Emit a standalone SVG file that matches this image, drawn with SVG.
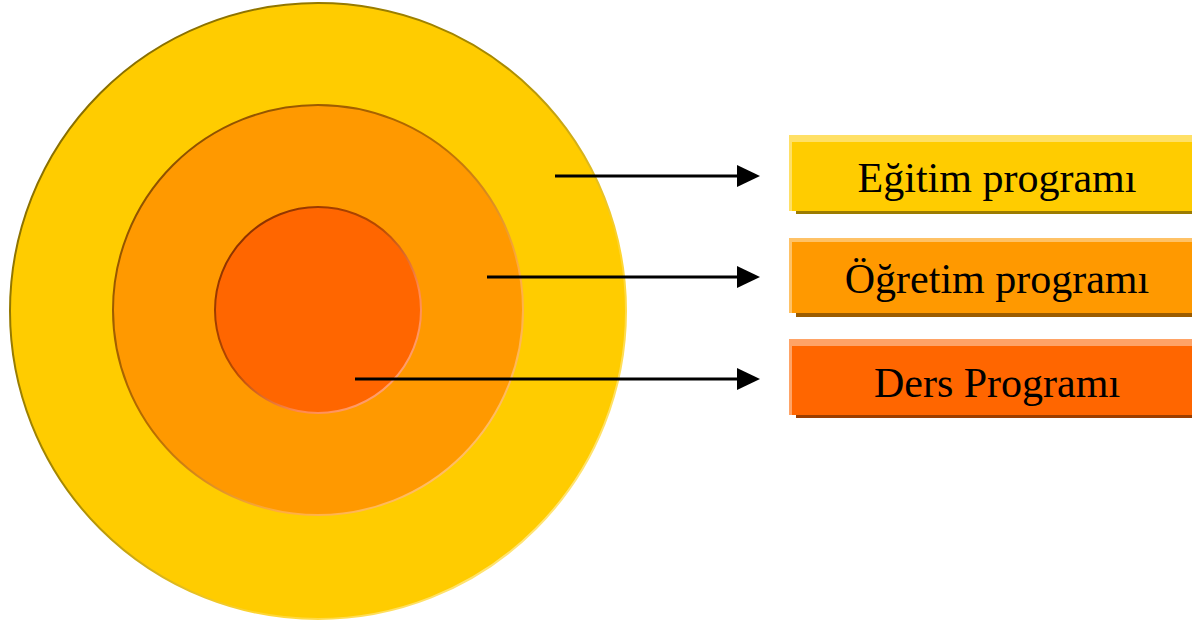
<svg xmlns="http://www.w3.org/2000/svg" width="1192" height="623" viewBox="0 0 1192 623">
  <style>
    .label { font-family: "Liberation Serif", "Times New Roman", serif; font-size: 42px; fill: #000; text-anchor: middle; }
    .conn { stroke: #000; stroke-width: 3; fill: none; marker-end: url(#arrow); }
  </style>
  <defs>
    <marker id="arrow" markerUnits="userSpaceOnUse" markerWidth="24" markerHeight="24" refX="2" refY="12" orient="auto" viewBox="0 0 24 24">
      <path d="M0,1 L23,12 L0,23 Z" fill="#000"/>
    </marker>
    <linearGradient id="edgeOuter" x1="0" y1="0" x2="1" y2="1">
      <stop offset="0" stop-color="#7a6200"/>
      <stop offset="0.45" stop-color="#a88a00"/>
      <stop offset="0.7" stop-color="#ffd633"/>
      <stop offset="1" stop-color="#fff0b0"/>
    </linearGradient>
    <linearGradient id="edgeMid" x1="0" y1="0" x2="1" y2="1">
      <stop offset="0" stop-color="#7a4400"/>
      <stop offset="0.45" stop-color="#b86e00"/>
      <stop offset="0.7" stop-color="#ffad40"/>
      <stop offset="1" stop-color="#ffcc88"/>
    </linearGradient>
    <linearGradient id="edgeInner" x1="0" y1="0" x2="1" y2="1">
      <stop offset="0" stop-color="#7a2800"/>
      <stop offset="0.45" stop-color="#b84a00"/>
      <stop offset="0.7" stop-color="#ff8a50"/>
      <stop offset="1" stop-color="#ffb088"/>
    </linearGradient>
  </defs>

  <g id="circle-egitim">
    <circle cx="318" cy="311" r="308" fill="#ffcc00" stroke="url(#edgeOuter)" stroke-width="2"/>
  </g>
  <g id="circle-ogretim">
    <circle cx="318" cy="310" r="205" fill="#ff9900" stroke="url(#edgeMid)" stroke-width="2"/>
  </g>
  <g id="circle-ders">
    <circle cx="318" cy="310" r="103" fill="#ff6600" stroke="url(#edgeInner)" stroke-width="2"/>
  </g>

  <g id="box-egitim">
    <rect x="796" y="208" width="396" height="6" fill="#9c7c00"/>
    <rect x="789" y="135" width="403" height="76" fill="#ffe066"/>
    <rect x="792" y="142" width="400" height="69" fill="#ffcc00"/>
    <text class="label" x="997" y="192">Eğitim programı</text>
  </g>
  <g id="box-ogretim">
    <rect x="796" y="310" width="396" height="7" fill="#9c5c00"/>
    <rect x="789" y="238" width="403" height="75" fill="#ffc266"/>
    <rect x="792" y="242" width="400" height="71" fill="#ff9900"/>
    <text class="label" x="997" y="293">Öğretim programı</text>
  </g>
  <g id="box-ders">
    <rect x="796" y="412" width="396" height="6" fill="#9c3e00"/>
    <rect x="789" y="339" width="403" height="76" fill="#ffa366"/>
    <rect x="792" y="346" width="400" height="69" fill="#ff6600"/>
    <text class="label" x="997" y="397">Ders Programı</text>
  </g>

  <g id="connectors">
    <line class="conn" x1="555" y1="176" x2="739" y2="176"/>
    <line class="conn" x1="487" y1="277" x2="739" y2="277"/>
    <line class="conn" x1="355" y1="379" x2="739" y2="379"/>
  </g>
</svg>
